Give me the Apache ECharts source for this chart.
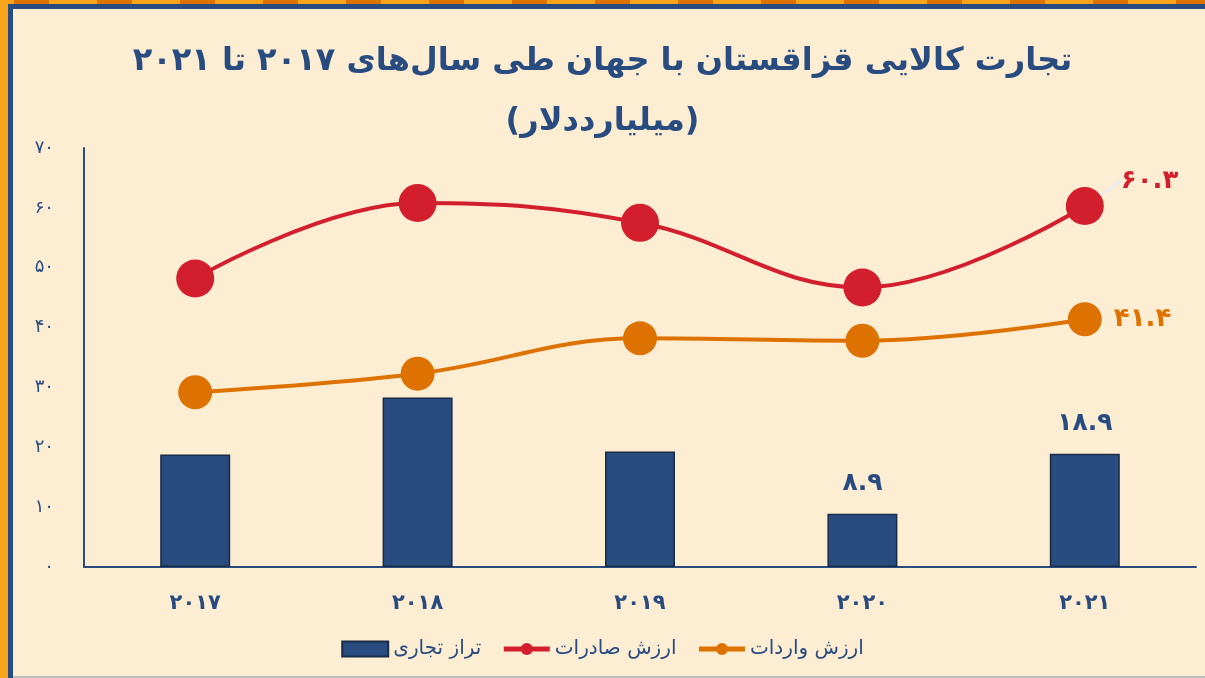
<!DOCTYPE html>
<html>
<head>
<meta charset="utf-8">
<script src="https://cdn.jsdelivr.net/npm/echarts@6/dist/echarts.min.js"></script>
<style>
  html, body { margin: 0; padding: 0; background: #fdeed3; }
  #chart { width: 1205px; height: 678px; }
</style>
</head>
<body>
<div id="chart"></div>
<script>
  // داده‌ها
  const years = ['2017', '2018', '2019', '2020', '2021']
  const balance = [18.8, 28.3, 19.3, 8.9, 18.9]
  const exportsVal = [48.2, 60.8, 57.5, 46.7, 60.3]
  const importsVal = [29.2, 32.3, 38.2, 37.8, 41.4]
  const yTicks = [0, 10, 20, 30, 40, 50, 60, 70]
  const balanceLabelIdx = [3, 4]

  const blue = '#284b80'
  const font = 'DejaVu Sans'
  const fa = (v) => String(v).replace(/\d/g, d => '۰۱۲۳۴۵۶۷۸۹'[d])

  let myChart = echarts.init(document.getElementById('chart'))
  myChart.setOption({
    backgroundColor: '#fdeed3',
    textStyle: { fontFamily: font },
    title: {
      text: 'تجارت کالایی قزاقستان با جهان طی سال‌های ۲۰۱۷ تا ۲۰۲۱\n(میلیارددلار)',
      left: 'center',
      top: 27,
      textStyle: { color: blue, fontSize: 32, fontWeight: 'bold', lineHeight: 60, fontFamily: font }
    },
    graphic: [
      { type: 'rect', shape: { x: 0, y: 0, width: 1205, height: 4 }, style: { fill: '#f9a51b' } },
      { type: 'line', shape: { x1: 14, y1: 2, x2: 1205, y2: 2 }, style: { stroke: '#de7408', lineWidth: 4, lineDash: [35, 48] } },
      { type: 'rect', shape: { x: 0, y: 0, width: 8, height: 678 }, style: { fill: '#f9a51b' } },
      { type: 'rect', shape: { x: 8, y: 4, width: 1197, height: 5 }, style: { fill: '#284b80' } },
      { type: 'rect', shape: { x: 8, y: 4, width: 5, height: 674 }, style: { fill: '#284b80' } },
      { type: 'rect', shape: { x: 13, y: 676, width: 1192, height: 2 }, style: { fill: '#bdbdbd' } }
    ],
    legend: {
      bottom: 14,
      left: 'center',
      itemWidth: 46,
      itemHeight: 15,
      itemGap: 20,
      textStyle: { color: blue, fontSize: 20, fontFamily: font },
      lineStyle: { width: 5 },
      data: [
        { name: 'تراز تجاری', icon: 'rect' },
        { name: 'ارزش صادرات' },
        { name: 'ارزش واردات' }
      ]
    },
    grid: { left: 84, right: 9, top: 148, bottom: 111 },
    xAxis: {
      type: 'category',
      data: years,
      axisLine: { lineStyle: { color: blue, width: 2 } },
      axisTick: { show: false },
      axisLabel: { color: blue, fontSize: 21, fontWeight: 'bold', margin: 26, formatter: fa }
    },
    yAxis: {
      type: 'value',
      min: 0,
      max: 70,
      interval: 10,
      axisLine: { show: true, lineStyle: { color: blue, width: 2 } },
      axisTick: { show: false },
      splitLine: { show: false },
      axisLabel: { color: blue, fontSize: 18, margin: 30, formatter: (v) => yTicks.includes(v) ? fa(v) : '' }
    },
    series: [
      {
        name: 'تراز تجاری',
        type: 'bar',
        data: balance.map((v, i) => ({
          value: v,
          label: { show: balanceLabelIdx.includes(i) }
        })),
        barWidth: 70,
        itemStyle: { color: blue, borderColor: '#1a2b47', borderWidth: 1.5 },
        label: {
          position: 'top',
          distance: 18,
          color: blue,
          fontSize: 25,
          fontWeight: 'bold',
          formatter: (p) => fa(p.value)
        }
      },
      {
        name: 'ارزش صادرات',
        type: 'line',
        data: exportsVal.map((v, i) => ({
          value: v,
          label: { show: i === exportsVal.length - 1 }
        })),
        smooth: 0.4,
        symbol: 'circle',
        symbolSize: 38,
        lineStyle: { color: '#d31f2d', width: 4 },
        itemStyle: { color: '#d31f2d' },
        label: {
          position: 'right',
          color: '#d31f2d',
          fontSize: 26,
          fontWeight: 'bold',
          formatter: (p) => fa(p.value)
        },
        labelLayout: { dx: 12, dy: -25 },
        labelLine: { show: true, lineStyle: { color: '#e6edf6', width: 2 } }
      },
      {
        name: 'ارزش واردات',
        type: 'line',
        data: importsVal.map((v, i) => ({
          value: v,
          label: { show: i === importsVal.length - 1 }
        })),
        smooth: 0.4,
        symbol: 'circle',
        symbolSize: 34,
        lineStyle: { color: '#de7200', width: 4 },
        itemStyle: { color: '#de7200' },
        label: {
          position: 'right',
          distance: 12,
          color: '#de7200',
          fontSize: 26,
          fontWeight: 'bold',
          formatter: (p) => fa(p.value)
        }
      }
    ]
  })
</script>
</body>
</html>
